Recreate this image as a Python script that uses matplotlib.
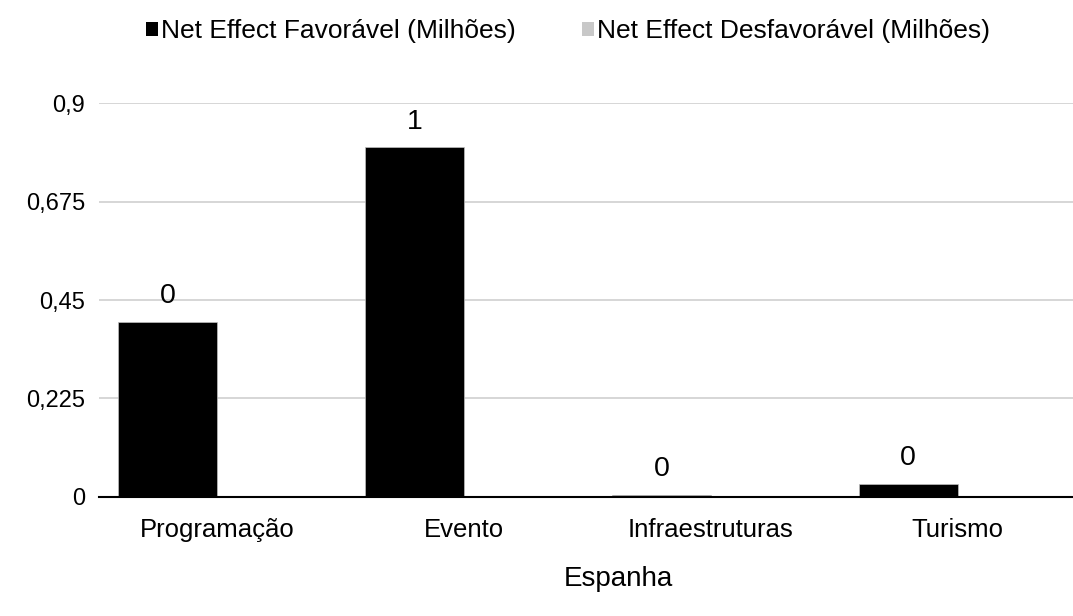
import matplotlib
matplotlib.use("Agg")
import matplotlib.pyplot as plt
import numpy as np
from matplotlib.patches import Patch

categories = ["Programação", "Evento", "Infraestruturas", "Turismo"]
favoravel = [0.40, 0.80, 0.005, 0.030]
desfavoravel = [0.0, 0.0, 0.0, 0.0]
fav_labels = ["0", "1", "0", "0"]
yticks = [0, 0.225, 0.45, 0.675, 0.9]
ytick_labels = ["0", "0,225", "0,45", "0,675", "0,9"]
series_names = ["Net Effect Favorável (Milhões)", "Net Effect Desfavorável (Milhões)"]
x_title = "Espanha"

plt.rcParams['font.family'] = ['Liberation Sans', 'DejaVu Sans']

fig = plt.figure(figsize=(10.73, 6.16), dpi=100)
ax = fig.add_axes([99/1073, (616-496.7)/616, 1 - 99/1073, 393.4/616])

x = np.arange(len(categories))
w = 0.401
ax.bar(x - w/2, favoravel, width=w, color="black", edgecolor="#bfbfbf", linewidth=0.5, zorder=3)
ax.bar(x + w/2, desfavoravel, width=w, color="#c8c8c8", linewidth=0, zorder=3)

for xi, v, lab in zip(x, favoravel, fav_labels):
    ax.annotate(lab, xy=(xi - w/2, v), xytext=(0, 9), textcoords="offset points",
                ha="center", va="bottom", fontsize=20.5, color="black")

ax.set_xlim(-0.480, 3.468)
ax.set_ylim(0, 0.9)
ax.set_yticks(yticks)
ax.set_yticklabels(ytick_labels, fontsize=17)
ax.set_xticks(x)
ax.set_xticklabels(categories, fontsize=18.5)
ax.tick_params(axis="both", length=0)
ax.tick_params(axis="y", pad=10)
ax.tick_params(axis="x", pad=15)
ax.grid(axis="y", color="#d0d0d0", linewidth=1.2, zorder=0)
ax.set_axisbelow(True)
for s in ["top", "right", "left"]:
    ax.spines[s].set_visible(False)
ax.spines["bottom"].set_color("black")
ax.spines["bottom"].set_linewidth(1.5)
ax.spines["bottom"].set_zorder(4)

fig.text(618/1073, 1 - 579/616, x_title, ha="center", va="center", fontsize=20)

handles = [Patch(facecolor="black"), Patch(facecolor="#c8c8c8")]
fig.legend(handles, series_names, loc="center", bbox_to_anchor=(568/1073, 1 - 31/616),
           ncol=2, frameon=False, fontsize=19, handlelength=0.45, handleheight=0.45,
           handletextpad=0.12, columnspacing=2.5)

fig.savefig("out.png", dpi=100)
